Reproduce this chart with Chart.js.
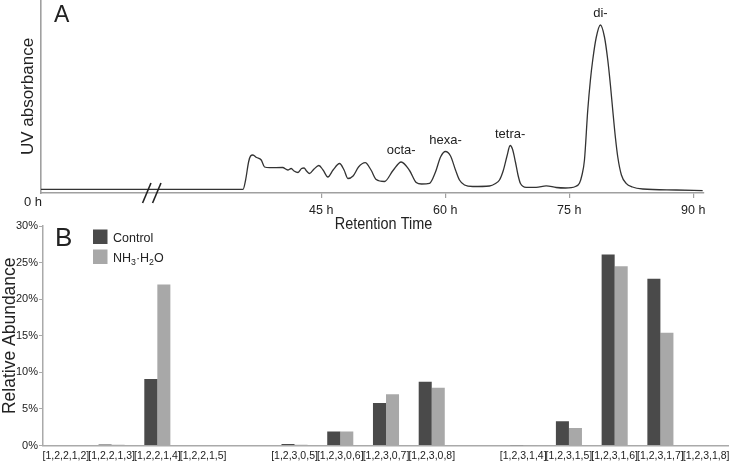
<!DOCTYPE html>
<html>
<head>
<meta charset="utf-8">
<script src="https://cdn.jsdelivr.net/npm/chart.js@4.4.1/dist/chart.umd.min.js"></script>
<style>
  body { margin: 0; background: #fff; }
  #wrap { position: relative; width: 729px; height: 463px; }
  .box { position: absolute; left: 0; width: 729px; }
  #boxA { top: 0; height: 240px; }
  #boxB { top: 215px; height: 248px; }
</style>
</head>
<body>
<div id="wrap">
  <div class="box" id="boxA"><canvas id="traceA"></canvas></div>
  <div class="box" id="boxB"><canvas id="barsB"></canvas></div>
</div>
<script>
// --- panel A : chromatogram ---
const retentionHours = [11.1, 35.54, 35.85, 36.21, 36.45, 36.73, 37.18, 37.74, 38.14, 38.75,
  40.32, 40.96, 41.37, 41.71, 42.19, 42.62, 42.92, 43.22, 43.59, 44.13,
  44.71, 45.22, 45.80, 46.43, 47.21, 47.76, 48.22, 48.85, 49.51, 50.32,
  51.02, 51.65, 52.65, 53.68, 54.67, 55.68, 56.49, 57.13, 58.10, 58.82,
  59.43, 60.03, 60.64, 61.24, 61.72, 62.33, 63.33, 65.35, 66.08, 66.56,
  67.04, 67.47, 67.85, 68.13, 68.49, 68.80, 69.10, 69.79, 71.00, 72.21,
  73.42, 74.54, 75.75, 76.23, 76.54, 76.84, 77.24, 77.56, 77.84, 78.25,
  78.77, 79.26, 79.66, 79.98, 80.26, 80.59, 80.87, 81.31, 81.88, 82.64,
  83.89, 87.93, 91.14];
const uvAbsorbance = [3.7, 3.7, 13, 31, 37, 38, 35.5, 33, 26, 25.3,
  25.5, 23, 24.5, 22, 20.5, 24.5, 25, 22, 19.5, 24,
  27.5, 23, 16, 23, 29.5, 23, 14.5, 17, 26, 30.3,
  23, 13.5, 11.5, 22.5, 31, 22.5, 10.5, 9, 9.7, 21,
  36, 41.5, 37, 23, 13, 8, 6.5, 7, 9.5, 13,
  23, 37, 47.5, 44, 31, 18, 9.5, 5.7, 5.7, 7.2,
  5.5, 5, 6.5, 9.7, 18, 33, 83, 113, 133, 155,
  168, 156, 133, 108, 83, 55, 36, 18, 9.7, 6,
  4, 3, 2.3];
const timeTicks = [45, 60, 75, 90];
const peakNames = ['octa-', 'hexa-', 'tetra-', 'di-'];
const peakHours = [54.67, 60.03, 67.85, 78.77];
const peakHeights = [31, 41.5, 47.5, 168];

// --- panel B : relative abundance ---
const compositions = ['[1,2,2,1,2]', '[1,2,2,1,3]', '[1,2,2,1,4]', '[1,2,2,1,5]', '',
  '[1,2,3,0,5]', '[1,2,3,0,6]', '[1,2,3,0,7]', '[1,2,3,0,8]', '',
  '[1,2,3,1,4]', '[1,2,3,1,5]', '[1,2,3,1,6]', '[1,2,3,1,7]', '[1,2,3,1,8]'];
const controlAbundance = [0, 0.15, 9.1, 0, null, 0.2, 1.9, 5.8, 8.7, null, 0.05, 3.3, 26.1, 22.8, 0];
const ammoniaAbundance = [0, 0.1, 22.0, 0, null, 0.1, 1.9, 7.0, 7.9, null, 0.05, 2.4, 24.5, 15.4, 0];
const percentTicks = [0, 5, 10, 15, 20, 25, 30];

Chart.defaults.font.family = '"Liberation Sans", Arial, sans-serif';
Chart.defaults.color = '#222';

const axisGrey = '#a0a0a0';

// texte avec indices (NH₃·H₂O)
function drawChem(ctx, text, x, y, size) {
  const subs = { '₂': '2', '₃': '3' };
  for (const ch of text) {
    if (subs[ch]) {
      ctx.font = (size * 0.7) + 'px "Liberation Sans", Arial';
      ctx.fillText(subs[ch], x, y + size * 0.25);
      x += ctx.measureText(subs[ch]).width;
    } else {
      ctx.font = size + 'px "Liberation Sans", Arial';
      ctx.fillText(ch, x, y);
      x += ctx.measureText(ch).width;
    }
  }
}

const annotA = {
  id: 'annotA',
  afterDraw(chart) {
    const { ctx, chartArea, scales: { x, y } } = chart;
    ctx.save();
    ctx.fillStyle = '#222';
    ctx.textBaseline = 'alphabetic';
    ctx.font = '23px "Liberation Sans", Arial';
    ctx.textAlign = 'left';
    ctx.fillText('A', chartArea.left + 13, 22);

    ctx.font = '13px "Liberation Sans", Arial';
    ctx.textAlign = 'right';
    ctx.fillText('0 h', chartArea.left + 1, chartArea.bottom + 12.5);

    ctx.textAlign = 'center';
    peakNames.forEach((n, i) => {
      ctx.fillText(n, x.getPixelForValue(peakHours[i]), y.getPixelForValue(peakHeights[i]) - 8);
    });

    // titre de l'axe x (police compressée)
    ctx.save();
    ctx.translate(383.5, chartArea.bottom + 36);
    ctx.scale(0.85, 1);
    ctx.font = '17px "Liberation Sans", Arial';
    ctx.fillText('Retention Time', 0, 0);
    ctx.restore();

    // marque de coupure //
    const bx = x.getPixelForValue(24.5);
    ctx.strokeStyle = '#222';
    ctx.lineWidth = 1.6;
    [-5, 5].forEach(d => {
      ctx.beginPath();
      ctx.moveTo(bx + d - 4.2, chartArea.bottom + 10);
      ctx.lineTo(bx + d + 4.2, chartArea.bottom - 10);
      ctx.stroke();
    });
    ctx.restore();
  }
};

new Chart(document.getElementById('traceA'), {
  type: 'line',
  data: {
    datasets: [{
      data: retentionHours.map((h, i) => ({ x: h, y: uvAbsorbance[i] })),
      borderColor: '#333',
      borderWidth: 1.3,
      pointRadius: 0,
      cubicInterpolationMode: 'monotone',
      fill: false
    }]
  },
  options: {
    responsive: true,
    maintainAspectRatio: false,
    animation: false,
    layout: { padding: { left: 0, right: 25, top: 0, bottom: 0 } },
    plugins: { legend: { display: false }, tooltip: { enabled: false } },
    scales: {
      x: {
        type: 'linear', min: 11.1, max: 91.3,
        afterBuildTicks: s => { s.ticks = timeTicks.map(v => ({ value: v })); },
        afterFit: s => { s.height = 47; s.paddingLeft = 0; s.paddingRight = 0; },
        grid: { display: true, drawOnChartArea: false, drawTicks: true, tickLength: 5, color: axisGrey, lineWidth: 1.2 },
        border: { display: true, color: axisGrey, width: 1.6 },
        ticks: { padding: 5, font: { size: 12.5 }, maxRotation: 0, callback: v => v + ' h' }
      },
      y: {
        min: 0, max: 193,
        afterFit: s => { s.width = 41; s.paddingTop = 0; s.paddingBottom = 0; },
        grid: { display: false },
        border: { display: true, color: axisGrey, width: 1.6 },
        ticks: { display: false },
        title: { display: true, text: 'UV absorbance', font: { size: 17 }, padding: { top: 18, bottom: 0 } }
      }
    }
  },
  plugins: [annotA]
});

const legendB = {
  id: 'legendB',
  afterDraw(chart) {
    const { ctx, chartArea } = chart;
    ctx.save();
    ctx.fillStyle = '#222';
    ctx.textBaseline = 'alphabetic';
    ctx.textAlign = 'left';
    ctx.font = '26px "Liberation Sans", Arial';
    ctx.fillText('B', chartArea.left + 12, chartArea.top + 20);

    chart.data.datasets.forEach((ds, i) => {
      const top = chartArea.top + 3.5 + i * 20;
      ctx.fillStyle = ds.backgroundColor;
      ctx.fillRect(chartArea.left + 50, top, 14.5, 14.5);
      ctx.fillStyle = '#222';
      drawChem(ctx, ds.label, chartArea.left + 70, top + 12, 12.5);
    });
    ctx.restore();
  }
};

new Chart(document.getElementById('barsB'), {
  type: 'bar',
  data: {
    labels: compositions,
    datasets: [
      { label: 'Control', data: controlAbundance, backgroundColor: '#4a4a4a', categoryPercentage: 0.57, barPercentage: 1 },
      { label: 'NH₃·H₂O', data: ammoniaAbundance, backgroundColor: '#a8a8a8', categoryPercentage: 0.57, barPercentage: 1 }
    ]
  },
  options: {
    responsive: true,
    maintainAspectRatio: false,
    animation: false,
    layout: { padding: { left: 0, right: 0, top: 11, bottom: 0 } },
    plugins: { legend: { display: false }, tooltip: { enabled: false } },
    scales: {
      x: {
        afterFit: s => { s.height = 17.5; s.paddingLeft = 0; s.paddingRight = 0; },
        grid: { display: false, drawTicks: false },
        border: { display: true, color: '#aaa', width: 1.5 },
        ticks: { padding: 4, font: { size: 10.5 }, autoSkip: false, maxRotation: 0, minRotation: 0 }
      },
      y: {
        min: 0, max: 30,
        afterBuildTicks: s => { s.ticks = percentTicks.map(v => ({ value: v })); },
        afterFit: s => { s.width = 43; s.paddingTop = 0; s.paddingBottom = 0; },
        grid: { display: true, drawOnChartArea: false, drawTicks: true, tickLength: 4, color: '#aaa' },
        border: { display: true, color: '#aaa', width: 1.5 },
        ticks: { padding: 1, font: { size: 11 }, callback: v => v + '%' },
        title: { display: true, text: 'Relative Abundance', font: { size: 17.5 }, padding: { top: 0, bottom: 0 } }
      }
    }
  },
  plugins: [legendB]
});
</script>
</body>
</html>
